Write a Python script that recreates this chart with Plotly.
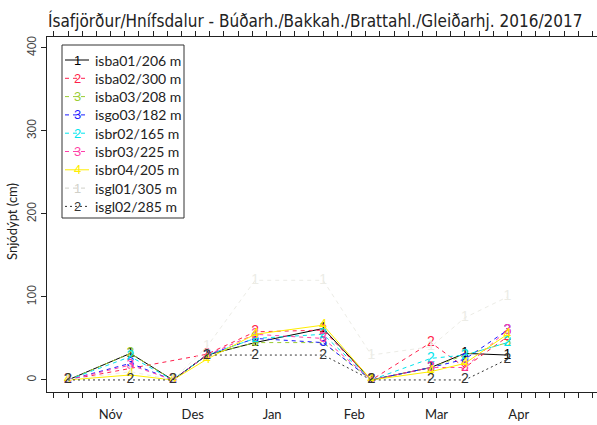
import pandas as pd
import plotly.graph_objects as go

# measurement dates
dates = ["2016-10-30", "2016-11-21", "2016-12-06", "2016-12-18", "2017-01-04",
         "2017-01-28", "2017-02-14", "2017-03-07", "2017-03-19", "2017-04-03"]

# snow depth (cm) per station
isba01 = [0, 32, 0, 30, 45, 62, 0, 15, 32, 30]
isba02 = [0, None, None, 31, 58, 60, 0, 45, 15, 52]
isba03 = [0, 32, 0, 30, 45, 45, 0, 15, 30, 45]
isgo03 = [0, 20, 0, 30, 50, 45, 0, 15, 25, 60]
isbr02 = [0, 28, 0, 30, 50, 55, 0, 26, 30, 45]
isbr03 = [0, 18, 0, 30, 55, 50, 0, 15, 15, 60]
isbr04 = [0, 6, 0, 25, 55, 66, 0, 10, 20, 55]
isgl01 = [0, 10, 0, 40, 120, 120, 30, 40, 75, 100]
isgl02 = [0, 0, 0, 30, 30, 30, 0, 0, 0, 25]

names = ["isba01/206 m", "isba02/300 m", "isba03/208 m", "isgo03/182 m", "isbr02/165 m",
         "isbr03/225 m", "isbr04/205 m", "isgl01/305 m", "isgl02/285 m"]
series = [isba01, isba02, isba03, isgo03, isbr02, isbr03, isbr04, isgl01, isgl02]
digits = ["1", "2", "3", "3", "2", "3", "4", "1", "2"]
colors = ["#000000", "#ff1f4b", "#9acd32", "#1a1aff", "#00e5ee", "#ff3fa8",
          "#ffee00", "#ecece6", "#333333"]
dashes = ["solid", "4px,4px", "4px,4px", "4px,4px", "4px,4px", "4px,4px",
          "solid", "4px,4px", "2px,3px"]

month_vals = ["2016-11-14", "2016-12-13", "2017-01-10", "2017-02-08", "2017-03-09", "2017-04-07"]
month_text = ["Nóv", "Des", "Jan", "Feb", "Mar", "Apr"]

fig = go.Figure()
for vals, nm, dg, col, ds in zip(series, names, digits, colors, dashes):
    fig.add_trace(go.Scatter(
        x=dates, y=vals, name=nm, mode="lines+text",
        text=[dg if v is not None else "" for v in vals],
        textposition="middle center",
        textfont=dict(family="Liberation Sans", size=14, color=col),
        line=dict(color=col, width=1, dash=ds),
        connectgaps=True, showlegend=False, hoverinfo="skip"))

# plot box in pixels
L, R, T, B = 47, 597, 37, 392
W, H = R - L, B - T
def fx(p): return (p - L) / W
def fy(p): return (B - p) / H

base = pd.Timestamp("2016-10-30")
x0 = base + pd.Timedelta(days=-7.41)
x1 = base + pd.Timedelta(days=186.6)

fig.update_layout(
    width=597, height=425,
    margin=dict(l=L, r=597 - R, t=T, b=425 - B),
    plot_bgcolor="white", paper_bgcolor="white",
    showlegend=False,
    xaxis=dict(
        type="date", range=[x0, x1], showgrid=False, zeroline=False,
        showline=True, linecolor="#222", linewidth=1, mirror="allticks",
        tickmode="array", tickvals=month_vals, ticktext=month_text,
        ticks="outside", ticklen=0, ticklabelstandoff=10,
        tickfont=dict(family="Lato", size=13, color="#222"),
        minor=dict(ticks="outside", ticklen=5, tickcolor="#222",
                   tick0="2016-10-30", dtick=5 * 86400000, showgrid=False),
    ),
    yaxis=dict(
        range=[-14.5, 413], showgrid=False, zeroline=False,
        showline=True, linecolor="#222", linewidth=1,
        tickvals=[0, 100, 200, 300, 400], ticks="outside", ticklen=5,
        tickcolor="#222", tickangle=-90,
        tickfont=dict(family="Liberation Sans", size=12, color="#444"),
    ),
)

ann = []
ann.append(dict(text="Ísafjörður/Hnífsdalur - Búðarh./Bakkah./Brattahl./Gleiðarhj. 2016/2017",
                x=fx(315), y=fy(20), xref="paper", yref="paper", showarrow=False,
                xanchor="center", yanchor="middle",
                font=dict(family="'DejaVu Sans Condensed', Roboto, sans-serif",
                          size=17, color="#222")))
ann.append(dict(text="Snjódýpt (cm)", x=fx(12), y=fy(222), xref="paper", yref="paper",
                showarrow=False, textangle=-90, xanchor="center", yanchor="middle",
                font=dict(family="Lato", size=13, color="#222")))

shapes = [dict(type="rect", xref="paper", yref="paper", x0=fx(62), x1=fx(184),
               y0=fy(218), y1=fy(45), line=dict(color="#333", width=1),
               fillcolor="white", layer="above")]
for i, (nm, dg, col, ds) in enumerate(zip(names, digits, colors, dashes)):
    yy = 60 + i * 18.3
    lc = "#d0d0c8" if nm.startswith("isgl01") else col
    shapes.append(dict(type="line", xref="paper", yref="paper", x0=fx(65), x1=fx(89),
                       y0=fy(yy), y1=fy(yy), line=dict(color=lc, width=1, dash=ds),
                       layer="above"))
    ann.append(dict(text=dg, x=fx(77), y=fy(yy), xref="paper", yref="paper",
                    showarrow=False, xanchor="center", yanchor="middle",
                    font=dict(family="Liberation Sans", size=13, color=lc)))
    ann.append(dict(text=nm, x=fx(93), y=fy(yy), xref="paper", yref="paper",
                    xanchor="left", yanchor="middle", showarrow=False,
                    font=dict(family="Lato", size=14, color="#222")))

fig.update_layout(annotations=ann, shapes=shapes)
fig.write_html("out.html", config={"displayModeBar": False},
               post_script="document.body.style.margin='0';")
